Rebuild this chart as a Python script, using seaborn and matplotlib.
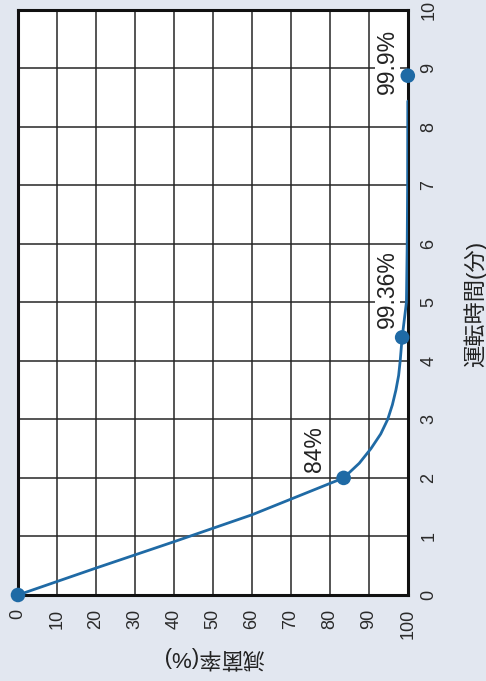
import matplotlib
matplotlib.use("Agg")
import matplotlib.pyplot as plt
import seaborn as sns
import pandas as pd

# Curve (reduction %, running time in minutes)
curve_rate = [0, 20, 40, 60, 83.5, 87.5, 90.5, 93.0, 94.8, 96.0, 96.9, 97.6, 98.0, 98.5, 99.6, 99.8, 99.9, 99.95, 99.95]
curve_time = [0, 0.46, 0.91, 1.37, 2.0, 2.25, 2.5, 2.75, 3.0, 3.25, 3.5, 3.75, 4.0, 4.4, 5.0, 6.0, 7.0, 8.0, 8.87]

# Highlighted points
point_rate = [0, 83.5, 98.5, 99.95]
point_time = [0, 2.0, 4.4, 8.87]
point_labels = ["", "84%", "99.36%", "99.9%"]

x_ticks = [0, 10, 20, 30, 40, 50, 60, 70, 80, 90, 100]
y_ticks = [0, 1, 2, 3, 4, 5, 6, 7, 8, 9, 10]
x_label = "減菌率(%)"
y_label = "運転時間(分)"

sns.set_theme(style="white")
plt.rcParams["font.family"] = ["Liberation Sans", "Noto Sans CJK JP", "DejaVu Sans"]

bg = "#e2e7f0"
line_c = "#1f6aa5"

fig = plt.figure(figsize=(4.86, 6.81), dpi=100, facecolor=bg)
ax = fig.add_axes([0.037, 0.1263, 0.8025, 0.8597])
ax.set_facecolor("white")

df = pd.DataFrame({"rate": curve_rate, "time": curve_time})
sns.lineplot(data=df, x="rate", y="time", sort=False, ax=ax, color=line_c,
             linewidth=2.0, zorder=4)
pts = pd.DataFrame({"rate": point_rate, "time": point_time})
sns.scatterplot(data=pts, x="rate", y="time", ax=ax, color=line_c, s=110,
                edgecolor="none", zorder=5, clip_on=False)

ax.set_xlim(0, 100)
ax.set_ylim(0, 10)
ax.set_xticks(x_ticks)
ax.set_yticks(y_ticks)
ax.set_xticklabels([str(v) for v in x_ticks], rotation=90, fontsize=13, color="#2a2a2a")
ax.set_yticklabels([str(v) for v in y_ticks], rotation=90, fontsize=13, color="#2a2a2a",
                   va="center")
ax.yaxis.tick_right()
ax.tick_params(axis="x", length=0, pad=10)
ax.tick_params(axis="y", length=0, pad=9)
ax.grid(True, color="#262626", linewidth=1.1)
ax.set_axisbelow(True)
for s in ax.spines.values():
    s.set_color("#111111")
    s.set_linewidth(2.2)
ax.set_xlabel("")
ax.set_ylabel("")

# point labels (rotated like the picture)
label_pos = {1: (75.9, 2.1), 2: (94.7, 4.56), 3: (94.7, 8.55)}
for i, (lx, ly) in label_pos.items():
    ax.text(lx, ly, point_labels[i], rotation=90, ha="center", va="bottom",
            fontsize=16.5, color="#222222", zorder=6,
            bbox=dict(facecolor="white", edgecolor="none", pad=0.5))

fig.text(213 / 486, 1 - 658 / 681, x_label, rotation=180, ha="center", va="center",
         fontsize=16, color="#222222")
fig.text(475 / 486, 1 - 304 / 681, y_label, rotation=90, ha="center", va="center",
         fontsize=16, color="#222222")

fig.savefig("out.png", dpi=100, facecolor=bg)
